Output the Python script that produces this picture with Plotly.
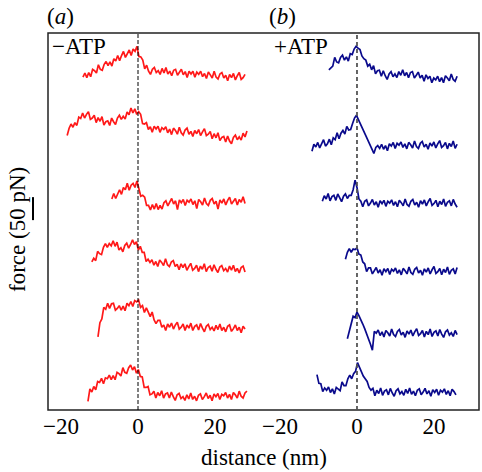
import numpy as np
import plotly.graph_objects as go

# ---- data (force in pN relative to each trace's baseline; distance in nm) ----
a_start = [-14.3, -18.4, -6.8, -12.0, -10.4, -13.0]
a_end = [27.8, 28.3, 27.8, 27.8, 27.8, 28.3]
a_offset = [724, 598, 452, 307, 176, 33]

b_start = [-7.3, -11.7, -9.0, -3.0, -2.5, -10.4]
b_end = [26.0, 26.0, 26.0, 26.0, 26.0, 25.7]
b_offset = [722, 576, 450, 302, 167, 39]

a1 = [0, 9, -1, 10, 1, 17, 14, 9, 27, 17,
      15, 28, 34, 25, 33, 24, 40, 35, 47, 36,
      47, 56, 43, 50, 59, 47, 61, 56, 67, 45,
      44, 37, 18, 26, 13, 6, 17, 21, 10, 14,
      6, 19, 9, 21, 7, 13, 3, 15, 17, 4,
      10, 17, 5, 12, -1, 13, 7, 13, 0, 11,
      6, 13, 1, 8, -3, 11, 5, -2, 13, 0,
      -4, 7, 10, -2, 4, -8, 6, -1, 8, -6,
      3, 10, -5, -1, 6]
a2 = [-1, 15, 24, 17, 27, 21, 39, 36, 48, 37,
      45, 51, 34, 37, 43, 27, 38, 30, 40, 22,
      29, 31, 21, 37, 29, 23, 37, 43, 34, 41,
      35, 50, 44, 59, 48, 57, 45, 51, 45, 25,
      24, 27, 12, 18, 6, 19, 13, 19, 6, 16,
      12, 18, 5, 13, 1, 15, 10, 2, 17, 5,
      0, 11, 15, 2, 8, -3, 10, 3, 12, -1,
      7, 14, -1, 2, 8, -8, 3, -6, 5, -12,
      -5, -3, -15, -2, -13, -19, -5, 0, -10, -4,
      -11, 4, -4, 9]
a3 = [7, 19, 8, 16, 27, 17, 32, 27, 41, 26,
      37, 41, 32, 46, 30, 13, 15, 11, -7, -7,
      -17, -5, -15, -3, -16, -7, -15, -1, 3, -8,
      0, 8, -4, 3, -16, 5, -1, 6, -7, 4,
      0, 7, -5, 3, -14, 6, 1, -6, 9, -3,
      -7, 4, 8, -4, 2, -15, 5, -2, 7, -6,
      4, 11, -4, 1, 8, -6, 6, 0, 12, -3]
a4 = [15, 23, 18, 38, 33, 31, 47, 55, 47, 55,
      50, 61, 49, 58, 41, 46, 37, 51, 56, 45,
      53, 63, 53, 59, 41, 49, 36, 36, 16, 21,
      14, 20, 8, 16, 5, 19, 14, 7, 22, 9,
      5, 15, 18, 5, 10, -2, 11, 3, 11, -3,
      5, 12, -3, 1, 8, -6, 6, -1, 11, -6,
      3, 6, -5, 9, -1, -8, 4, 7, -4, 1,
      -7, 6, -3, 8, -6, 1, -9, 3, 6, -7]
a5 = [-17, 14, 22, 47, 43, 56, 45, 55, 56, 41,
      45, 51, 41, 50, 40, 56, 51, 60, 49, 62,
      59, 63, 47, 51, 36, 46, 37, 27, 37, 20,
      12, 19, 19, 4, 9, -3, 11, 4, 13, 0,
      9, 15, 0, 4, 11, -3, 9, 2, 13, -3,
      6, 9, -2, 12, 2, -6, 6, 10, -1, 4,
      -4, 8, -1, 11, -3, 4, -6, 6, 9, -5,
      1, 9, -3, 4, -8, 6, 0]
a6 = [-14, 13, 6, 18, 11, 29, 27, 36, 24, 37,
      35, 43, 33, 42, 33, 49, 46, 41, 59, 49,
      47, 59, 65, 54, 61, 47, 55, 40, 39, 16,
      16, 18, 0, 2, 8, -7, 5, -2, 9, -7,
      2, 4, -7, 6, -4, -12, 0, 3, -8, -4,
      -12, 0, -9, 4, -10, -3, -13, -1, 2, -10,
      -4, 4, -8, -1, -13, 2, -4, 3, -10, 1,
      -2, 5, -7, 1, -10, 5, 0, -7, 8, -3,
      -7, 4, 8]

b1 = [18, 23, 26, 45, 35, 33, 45, 50, 39, 46,
      37, 53, 51, 63, 69, 65, 62, 48, 42, 39,
      26, 30, 18, 27, 9, 16, 17, 4, 16, 5,
      -3, 9, 14, 3, 9, 1, 14, 6, 18, 5,
      12, 1, 12, 14, 0, 6, 13, 0, 6, -7,
      7, -1, 4, -10, 0, -4, 4, -8, 1, -10,
      5, 0, -6, 9, -3, -7, 4]
b2 = [-13, 2, -4, 6, -6, 4, 12, -2, 3, 13,
      1, 16, 12, 27, 14, 26, 32, 24, 41, 33,
      34, 47, 59, 65, 55, 46, 37, 28, 19, 10,
      1, -8, -18, -5, -1, -7, 2, -9, -1, -12,
      3, -2, 6, -7, 4, 0, 7, -5, 3, -8,
      6, 1, -6, 9, -3, -7, 4, 8, -4, 2,
      -9, 5, -2, 7, -6, 3, 10, -5, -1, 6,
      -8, 4, -3, 9, -7, 2]
b3 = [4, 16, 9, 21, 5, 14, 17, 6, 20, 10,
      3, 15, 20, 10, 17, 17, 29, 50, 34, 9,
      4, -8, 4, 7, -6, 0, 8, -4, 3, -9,
      5, -1, 6, -7, 4, 0, 7, -5, 3, -8,
      6, 1, -6, 9, -3, -7, 4, 8, -4, 2,
      -9, 5, -2, 7, -6, 3, 10, -5, -1, 6,
      -8, 4, -3, 9, -7, 2, 5, -6, 8, -2,
      -9]
b4 = [26, 41, 49, 41, 48, 47, 51, 37, 35, 20,
      16, -1, 7, 7, -6, 0, 8, -4, 3, -9,
      5, -1, 6, -7, 4, 0, 7, -5, 3, -8,
      6, 1, -6, 9, -3, -7, 4, 8, -4, 2,
      -9, 5, -2, 7, -6, 3, 10, -5, -1, 6,
      -8, 4, -3, 9, -7, 2, 5, -6, 8]
b5 = [-12, 4, 24, 37, 34, 46, 38, 30, 20, 10,
      0, -10, -24, -37, 4, 0, 7, -5, 3, -8,
      6, 1, -6, 9, -3, -7, 4, 8, -4, 2,
      -9, 5, -2, 7, -6, 3, 10, -5, -1, 6,
      -8, 4, -3, 9, -7, 2, 5, -6, 8, -2,
      -9, 3, 7, -4, 1, -7, 6, -3]
b6 = [38, 19, 18, 1, 9, 4, 11, -1, 7, -4,
      10, 7, 3, 22, 14, 14, 29, 37, 29, 40,
      45, 64, 54, 48, 35, 29, 23, 10, 4, 8,
      -8, 4, -3, 9, -7, 2, 5, -6, 8, -2,
      -9, 3, 7, -4, 1, -7, 6, -3, 9, -5,
      2, -8, 4, 7, -6, 0, 8, -4, 3, -9,
      5, -1, 6, -7, 4, 0, 7, -5, 3, -8,
      6, 1, -6]

a_traces = [a1, a2, a3, a4, a5, a6]
b_traces = [b1, b2, b3, b4, b5, b6]

tick_vals = [-20, 0, 20]
scale_bar_pN = 50

RED = "rgb(255,25,25)"
BLUE = "rgb(10,10,140)"
FONT = "Liberation Serif"
FS = 23
LW = 1.7

fig = go.Figure()

for vals, s, e, off in zip(a_traces, a_start, a_end, a_offset):
    x = np.linspace(s, e, len(vals))
    y = np.array(vals) + off
    fig.add_trace(go.Scatter(x=x, y=y, mode="lines", line=dict(color=RED, width=LW),
                             xaxis="x", yaxis="y", showlegend=False, hoverinfo="skip"))

for vals, s, e, off in zip(b_traces, b_start, b_end, b_offset):
    x = np.linspace(s, e, len(vals))
    y = np.array(vals) + off
    fig.add_trace(go.Scatter(x=x, y=y, mode="lines", line=dict(color=BLUE, width=LW),
                             xaxis="x2", yaxis="y", showlegend=False, hoverinfo="skip"))

split = 202 / 431
axis_common = dict(showgrid=False, zeroline=False, showline=False, ticks="",
                   tickvals=tick_vals, tickfont=dict(family=FONT, size=FS, color="black"))

fig.update_layout(
    width=482, height=472,
    margin=dict(l=48, r=3, t=33, b=62),
    paper_bgcolor="white", plot_bgcolor="white",
    xaxis=dict(domain=[0, split], range=[-23.38, 29.09], **axis_common),
    xaxis2=dict(domain=[split, 1], range=[-27.79, 31.69], anchor="y", **axis_common),
    yaxis=dict(range=[0, 820], showgrid=False, zeroline=False, showline=False,
               showticklabels=False, ticks=""),
    font=dict(family=FONT, size=FS, color="black"),
)

shapes = [
    dict(type="rect", xref="paper", yref="paper", x0=0, x1=1, y0=0, y1=1,
         line=dict(color="#222222", width=1.5)),
    dict(type="line", xref="x", yref="paper", x0=0, x1=0, y0=0, y1=1,
         line=dict(color="black", width=1, dash="4px,2px")),
    dict(type="line", xref="x2", yref="paper", x0=0, x1=0, y0=0, y1=1,
         line=dict(color="#555555", width=1.8, dash="4px,3px")),
    dict(type="line", xref="paper", yref="y", x0=-0.0348, x1=-0.0348,
         y0=413, y1=413 + scale_bar_pN, line=dict(color="black", width=2)),
]
fig.update_layout(shapes=shapes)

annots = [
    dict(text="(<i>a</i>)", x=0.028, y=1.045),
    dict(text="(<i>b</i>)", x=0.543, y=1.045),
    dict(text="\u2212ATP", x=0.004, y=0.9655, xanchor="left"),
    dict(text="+ATP", x=0.52, y=0.9655, xanchor="left"),
    dict(text="distance (nm)", x=0.501, y=-0.125),
    dict(text="force (50 pN)", x=-0.072, y=0.48, textangle=-90),
]
for a in annots:
    base = dict(xref="paper", yref="paper", showarrow=False,
                font=dict(family=FONT, size=FS, color="black"),
                xanchor="center", yanchor="middle")
    base.update(a)
    fig.add_annotation(**base)

fig.write_html("out.html", config={"displayModeBar": False},
               post_script="document.body.style.margin='0';document.body.style.overflow='hidden';")
